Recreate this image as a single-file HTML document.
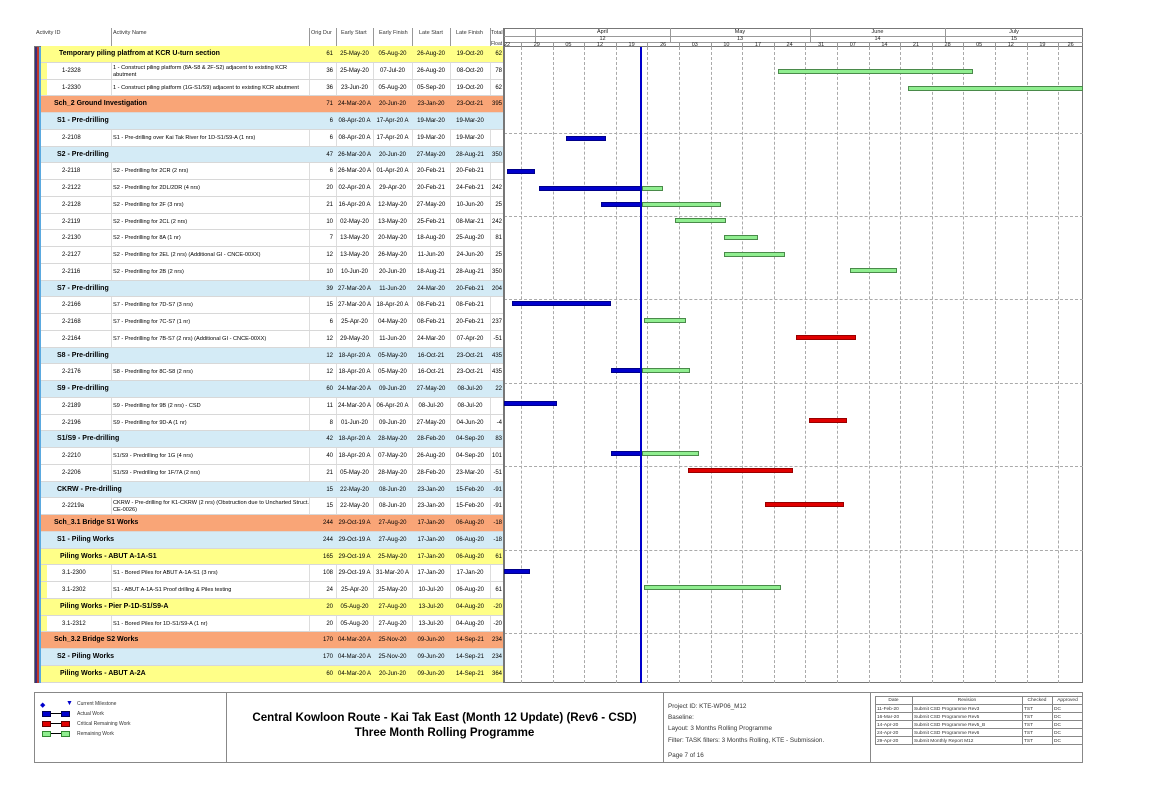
<!DOCTYPE html>
<html><head><meta charset="utf-8">
<style>
*{margin:0;padding:0;box-sizing:border-box}
body{width:1149px;height:812px;background:#fff;position:relative;overflow:hidden;font-family:"Liberation Sans",Arial,sans-serif;color:#000}
.a{position:absolute}
.r{position:absolute;left:41px;width:462px;height:16.75px;border-bottom:1px solid #d8d8d8;font-size:6px;line-height:16px;white-space:nowrap}
.r span{position:absolute;top:0}
.y{background:#ffff88}.o{background:#f9a577}.b{background:#d4ebf6}
.w{background:linear-gradient(#ddd,#ddd) 70px 0/1px 100% no-repeat,linear-gradient(#ddd,#ddd) 268px 0/1px 100% no-repeat,linear-gradient(#ddd,#ddd) 295px 0/1px 100% no-repeat,linear-gradient(#ddd,#ddd) 332px 0/1px 100% no-repeat,linear-gradient(#ddd,#ddd) 371px 0/1px 100% no-repeat,linear-gradient(#ddd,#ddd) 409px 0/1px 100% no-repeat,linear-gradient(#ddd,#ddd) 449px 0/1px 100% no-repeat,#fff}
.yi{background:linear-gradient(#ffff88,#ffff88) 0 0/6px 100% no-repeat,linear-gradient(#ddd,#ddd) 70px 0/1px 100% no-repeat,linear-gradient(#ddd,#ddd) 268px 0/1px 100% no-repeat,linear-gradient(#ddd,#ddd) 295px 0/1px 100% no-repeat,linear-gradient(#ddd,#ddd) 332px 0/1px 100% no-repeat,linear-gradient(#ddd,#ddd) 371px 0/1px 100% no-repeat,linear-gradient(#ddd,#ddd) 409px 0/1px 100% no-repeat,linear-gradient(#ddd,#ddd) 449px 0/1px 100% no-repeat,#fff}
.h{font-weight:bold;font-size:7px}
.h .du,.h .es,.h .ef,.h .ls,.h .lf,.h .tf{font-weight:normal;font-size:6px}
.id{left:21px}.nm{left:72px;font-size:5.6px}
.du{left:262px;width:30px;text-align:right}
.es{left:295px;width:37px;text-align:center}
.ef{left:332px;width:39px;text-align:center}
.ls{left:371px;width:38px;text-align:center}
.lf{left:409px;width:40px;text-align:center}
.tf{left:449px;width:13px;text-align:right;padding-right:1px}
.bar{position:absolute;height:5px}
.bl{background:#0000cc;border:1px solid #00008a}
.gr{background:#90ee90;border:1px solid #4a8a4a}
.rd{background:#e00000;border:1px solid #900}
.vg{position:absolute;top:47px;height:636px;border-left:1px dashed #aaa;width:0}
.hg{position:absolute;left:504px;width:579px;border-top:1px dashed #aaa;height:0}
.hd{position:absolute;font-size:5.5px;text-align:center;color:#222}
.t6{font-size:6.3px;color:#333}
</style></head><body>

<div class="a" style="left:34px;top:28px;width:1049px;height:655px;border:1px solid #777"></div>
<div class="a" style="left:34px;top:28px;width:470px;height:19px;border-bottom:1px solid #777;background:#fff"></div>
<div class="a t6" style="left:36px;top:30px;font-size:5.5px">Activity ID</div>
<div class="a t6" style="left:113px;top:30px;font-size:5.5px">Activity Name</div>
<div class="a t6" style="left:311px;top:30px;font-size:5.5px">Orig Dur</div>
<div class="a t6" style="left:341px;top:30px;font-size:5.5px">Early Start</div>
<div class="a t6" style="left:379px;top:30px;font-size:5.5px">Early Finish</div>
<div class="a t6" style="left:419px;top:30px;font-size:5.5px">Late Start</div>
<div class="a t6" style="left:456px;top:30px;font-size:5.5px">Late Finish</div>
<div class="a t6" style="left:491px;top:30px;font-size:5.5px">Total</div>
<div class="a t6" style="left:491px;top:41px;font-size:5px">Float</div>
<div class="a" style="left:111px;top:28px;height:19px;border-left:1px solid #999"></div>
<div class="a" style="left:309px;top:28px;height:19px;border-left:1px solid #999"></div>
<div class="a" style="left:336px;top:28px;height:19px;border-left:1px solid #999"></div>
<div class="a" style="left:373px;top:28px;height:19px;border-left:1px solid #999"></div>
<div class="a" style="left:412px;top:28px;height:19px;border-left:1px solid #999"></div>
<div class="a" style="left:450px;top:28px;height:19px;border-left:1px solid #999"></div>
<div class="a" style="left:490px;top:28px;height:19px;border-left:1px solid #999"></div>

<div class="a" style="left:503px;top:28px;width:580px;height:19px;border-left:2px solid #777;border-bottom:1px solid #777"></div>
<div class="a" style="left:504px;top:36px;width:579px;border-top:1px solid #999"></div>
<div class="a" style="left:504px;top:42px;width:579px;border-top:1px solid #999"></div>
<div class="a" style="left:535px;top:28px;height:14px;border-left:1px solid #999"></div>
<div class="a" style="left:670px;top:28px;height:14px;border-left:1px solid #999"></div>
<div class="a" style="left:810px;top:28px;height:14px;border-left:1px solid #999"></div>
<div class="a" style="left:945px;top:28px;height:14px;border-left:1px solid #999"></div>
<div class="hd" style="left:535px;width:135px;top:29px">April</div>
<div class="hd" style="left:535px;width:135px;top:36px">12</div>
<div class="hd" style="left:670px;width:140px;top:29px">May</div>
<div class="hd" style="left:670px;width:140px;top:36px">13</div>
<div class="hd" style="left:810px;width:135px;top:29px">June</div>
<div class="hd" style="left:810px;width:135px;top:36px">14</div>
<div class="hd" style="left:945px;width:138px;top:29px">July</div>
<div class="hd" style="left:945px;width:138px;top:36px">15</div>
<div class="hd" style="left:504px;top:41.5px;text-align:left">22</div>
<div class="hd" style="left:521px;width:31.6px;top:41.5px">29</div>
<div class="hd" style="left:552.6px;width:31.6px;top:41.5px">05</div>
<div class="hd" style="left:584.2px;width:31.6px;top:41.5px">12</div>
<div class="hd" style="left:615.8px;width:31.6px;top:41.5px">19</div>
<div class="hd" style="left:647.4px;width:31.6px;top:41.5px">26</div>
<div class="hd" style="left:679px;width:31.6px;top:41.5px">03</div>
<div class="hd" style="left:710.6px;width:31.6px;top:41.5px">10</div>
<div class="hd" style="left:742.2px;width:31.6px;top:41.5px">17</div>
<div class="hd" style="left:773.8px;width:31.6px;top:41.5px">24</div>
<div class="hd" style="left:805.4px;width:31.6px;top:41.5px">31</div>
<div class="hd" style="left:837px;width:31.6px;top:41.5px">07</div>
<div class="hd" style="left:868.6px;width:31.6px;top:41.5px">14</div>
<div class="hd" style="left:900.2px;width:31.6px;top:41.5px">21</div>
<div class="hd" style="left:931.8px;width:31.6px;top:41.5px">28</div>
<div class="hd" style="left:963.4px;width:31.6px;top:41.5px">05</div>
<div class="hd" style="left:995px;width:31.6px;top:41.5px">12</div>
<div class="hd" style="left:1026.6px;width:31.6px;top:41.5px">19</div>
<div class="hd" style="left:1058.2px;width:25px;top:41.5px">26</div>
<div class="a" style="left:521px;top:42px;height:5px;border-left:1px solid #999"></div>
<div class="a" style="left:552.6px;top:42px;height:5px;border-left:1px solid #999"></div>
<div class="a" style="left:584.2px;top:42px;height:5px;border-left:1px solid #999"></div>
<div class="a" style="left:615.8px;top:42px;height:5px;border-left:1px solid #999"></div>
<div class="a" style="left:647.4px;top:42px;height:5px;border-left:1px solid #999"></div>
<div class="a" style="left:679px;top:42px;height:5px;border-left:1px solid #999"></div>
<div class="a" style="left:710.6px;top:42px;height:5px;border-left:1px solid #999"></div>
<div class="a" style="left:742.2px;top:42px;height:5px;border-left:1px solid #999"></div>
<div class="a" style="left:773.8px;top:42px;height:5px;border-left:1px solid #999"></div>
<div class="a" style="left:805.4px;top:42px;height:5px;border-left:1px solid #999"></div>
<div class="a" style="left:837px;top:42px;height:5px;border-left:1px solid #999"></div>
<div class="a" style="left:868.6px;top:42px;height:5px;border-left:1px solid #999"></div>
<div class="a" style="left:900.2px;top:42px;height:5px;border-left:1px solid #999"></div>
<div class="a" style="left:931.8px;top:42px;height:5px;border-left:1px solid #999"></div>
<div class="a" style="left:963.4px;top:42px;height:5px;border-left:1px solid #999"></div>
<div class="a" style="left:995px;top:42px;height:5px;border-left:1px solid #999"></div>
<div class="a" style="left:1026.6px;top:42px;height:5px;border-left:1px solid #999"></div>
<div class="a" style="left:1058.2px;top:42px;height:5px;border-left:1px solid #999"></div>

<div class="vg" style="left:521px"></div><div class="vg" style="left:552.6px"></div><div class="vg" style="left:584.2px"></div><div class="vg" style="left:615.8px"></div><div class="vg" style="left:647.4px"></div><div class="vg" style="left:679px"></div><div class="vg" style="left:710.6px"></div><div class="vg" style="left:742.2px"></div><div class="vg" style="left:773.8px"></div><div class="vg" style="left:805.4px"></div><div class="vg" style="left:837px"></div><div class="vg" style="left:868.6px"></div><div class="vg" style="left:900.2px"></div><div class="vg" style="left:931.8px"></div><div class="vg" style="left:963.4px"></div><div class="vg" style="left:995px"></div><div class="vg" style="left:1026.6px"></div><div class="vg" style="left:1058.2px"></div>
<div class="hg" style="top:133px"></div><div class="hg" style="top:216px"></div><div class="hg" style="top:299px"></div><div class="hg" style="top:383px"></div><div class="hg" style="top:466px"></div><div class="hg" style="top:550px"></div><div class="hg" style="top:633px"></div>
<div class="a" style="left:503px;top:47px;height:636px;border-left:2px solid #777"></div>

<div class="a" style="left:35px;top:47px;width:2px;height:636px;background:#3b2f7a"></div>
<div class="a" style="left:37px;top:47px;width:2px;height:636px;background:#c0392b"></div>
<div class="a" style="left:39px;top:47px;width:2px;height:636px;background:#5aa9e0"></div>

<div class="r y h" style="top:46px"><span style="left:18px">Temporary piling platfrom at KCR U-turn section</span><span class="du">61</span><span class="es">25-May-20</span><span class="ef">05-Aug-20</span><span class="ls">26-Aug-20</span><span class="lf">19-Oct-20</span><span class="tf">62</span></div>
<div class="r yi" style="top:62.75px"><span class="id">1-2328</span><span class="nm" style="line-height:7px;top:2px">1 - Construct piling platform (8A-S8 &amp; 2F-S2) adjacent to existing KCR<br>abutment</span><span class="du">36</span><span class="es">25-May-20</span><span class="ef">07-Jul-20</span><span class="ls">26-Aug-20</span><span class="lf">08-Oct-20</span><span class="tf">78</span></div>
<div class="r yi" style="top:79.5px"><span class="id">1-2330</span><span class="nm">1 - Construct piling platform (1G-S1/S9) adjacent to existing KCR abutment</span><span class="du">36</span><span class="es">23-Jun-20</span><span class="ef">05-Aug-20</span><span class="ls">05-Sep-20</span><span class="lf">19-Oct-20</span><span class="tf">62</span></div>
<div class="r o h" style="top:96.25px"><span style="left:13px">Sch_2 Ground Investigation</span><span class="du">71</span><span class="es">24-Mar-20 A</span><span class="ef">20-Jun-20</span><span class="ls">23-Jan-20</span><span class="lf">23-Oct-21</span><span class="tf">395</span></div>
<div class="r b h" style="top:113px"><span style="left:16px">S1 - Pre-drilling</span><span class="du">6</span><span class="es">08-Apr-20 A</span><span class="ef">17-Apr-20 A</span><span class="ls">19-Mar-20</span><span class="lf">19-Mar-20</span></div>
<div class="r w" style="top:129.75px"><span class="id">2-2108</span><span class="nm">S1 - Pre-drilling over Kai Tak River for 1D-S1/S9-A (1 nrs)</span><span class="du">6</span><span class="es">08-Apr-20 A</span><span class="ef">17-Apr-20 A</span><span class="ls">19-Mar-20</span><span class="lf">19-Mar-20</span></div>
<div class="r b h" style="top:146.5px"><span style="left:16px">S2 - Pre-drilling</span><span class="du">47</span><span class="es">26-Mar-20 A</span><span class="ef">20-Jun-20</span><span class="ls">27-May-20</span><span class="lf">28-Aug-21</span><span class="tf">350</span></div>
<div class="r w" style="top:163.25px"><span class="id">2-2118</span><span class="nm">S2 - Predrilling for 2CR (2 nrs)</span><span class="du">6</span><span class="es">26-Mar-20 A</span><span class="ef">01-Apr-20 A</span><span class="ls">20-Feb-21</span><span class="lf">20-Feb-21</span></div>
<div class="r w" style="top:180px"><span class="id">2-2122</span><span class="nm">S2 - Predrilling for 2DL/2DR (4 nrs)</span><span class="du">20</span><span class="es">02-Apr-20 A</span><span class="ef">29-Apr-20</span><span class="ls">20-Feb-21</span><span class="lf">24-Feb-21</span><span class="tf">242</span></div>
<div class="r w" style="top:196.75px"><span class="id">2-2128</span><span class="nm">S2 - Predrilling for 2F (3 nrs)</span><span class="du">21</span><span class="es">16-Apr-20 A</span><span class="ef">12-May-20</span><span class="ls">27-May-20</span><span class="lf">10-Jun-20</span><span class="tf">25</span></div>
<div class="r w" style="top:213.5px"><span class="id">2-2119</span><span class="nm">S2 - Predrilling for 2CL (2 nrs)</span><span class="du">10</span><span class="es">02-May-20</span><span class="ef">13-May-20</span><span class="ls">25-Feb-21</span><span class="lf">08-Mar-21</span><span class="tf">242</span></div>
<div class="r w" style="top:230.25px"><span class="id">2-2130</span><span class="nm">S2 - Predrilling for 8A (1 nr)</span><span class="du">7</span><span class="es">13-May-20</span><span class="ef">20-May-20</span><span class="ls">18-Aug-20</span><span class="lf">25-Aug-20</span><span class="tf">81</span></div>
<div class="r w" style="top:247px"><span class="id">2-2127</span><span class="nm">S2 - Predrilling for 2EL (2 nrs) (Additional GI - CNCE-00XX)</span><span class="du">12</span><span class="es">13-May-20</span><span class="ef">26-May-20</span><span class="ls">11-Jun-20</span><span class="lf">24-Jun-20</span><span class="tf">25</span></div>
<div class="r w" style="top:263.75px"><span class="id">2-2116</span><span class="nm">S2 - Predrilling for 2B (2 nrs)</span><span class="du">10</span><span class="es">10-Jun-20</span><span class="ef">20-Jun-20</span><span class="ls">18-Aug-21</span><span class="lf">28-Aug-21</span><span class="tf">350</span></div>
<div class="r b h" style="top:280.5px"><span style="left:16px">S7 - Pre-drilling</span><span class="du">39</span><span class="es">27-Mar-20 A</span><span class="ef">11-Jun-20</span><span class="ls">24-Mar-20</span><span class="lf">20-Feb-21</span><span class="tf">204</span></div>
<div class="r w" style="top:297.25px"><span class="id">2-2166</span><span class="nm">S7 - Predrilling for 7D-S7 (3 nrs)</span><span class="du">15</span><span class="es">27-Mar-20 A</span><span class="ef">18-Apr-20 A</span><span class="ls">08-Feb-21</span><span class="lf">08-Feb-21</span></div>
<div class="r w" style="top:314px"><span class="id">2-2168</span><span class="nm">S7 - Predrilling for 7C-S7 (1 nr)</span><span class="du">6</span><span class="es">25-Apr-20</span><span class="ef">04-May-20</span><span class="ls">08-Feb-21</span><span class="lf">20-Feb-21</span><span class="tf">237</span></div>
<div class="r w" style="top:330.75px"><span class="id">2-2164</span><span class="nm">S7 - Predrilling for 7B-S7 (2 nrs) (Additional GI - CNCE-00XX)</span><span class="du">12</span><span class="es">29-May-20</span><span class="ef">11-Jun-20</span><span class="ls">24-Mar-20</span><span class="lf">07-Apr-20</span><span class="tf">-51</span></div>
<div class="r b h" style="top:347.5px"><span style="left:16px">S8 - Pre-drilling</span><span class="du">12</span><span class="es">18-Apr-20 A</span><span class="ef">05-May-20</span><span class="ls">16-Oct-21</span><span class="lf">23-Oct-21</span><span class="tf">435</span></div>
<div class="r w" style="top:364.25px"><span class="id">2-2176</span><span class="nm">S8 - Predrilling for 8C-S8 (2 nrs)</span><span class="du">12</span><span class="es">18-Apr-20 A</span><span class="ef">05-May-20</span><span class="ls">16-Oct-21</span><span class="lf">23-Oct-21</span><span class="tf">435</span></div>
<div class="r b h" style="top:381px"><span style="left:16px">S9 - Pre-drilling</span><span class="du">60</span><span class="es">24-Mar-20 A</span><span class="ef">09-Jun-20</span><span class="ls">27-May-20</span><span class="lf">08-Jul-20</span><span class="tf">22</span></div>
<div class="r w" style="top:397.75px"><span class="id">2-2189</span><span class="nm">S9 - Predrilling for 9B (2 nrs) - CSD</span><span class="du">11</span><span class="es">24-Mar-20 A</span><span class="ef">06-Apr-20 A</span><span class="ls">08-Jul-20</span><span class="lf">08-Jul-20</span></div>
<div class="r w" style="top:414.5px"><span class="id">2-2196</span><span class="nm">S9 - Predrilling for 9D-A (1 nr)</span><span class="du">8</span><span class="es">01-Jun-20</span><span class="ef">09-Jun-20</span><span class="ls">27-May-20</span><span class="lf">04-Jun-20</span><span class="tf">-4</span></div>
<div class="r b h" style="top:431.25px"><span style="left:16px">S1/S9 - Pre-drilling</span><span class="du">42</span><span class="es">18-Apr-20 A</span><span class="ef">28-May-20</span><span class="ls">28-Feb-20</span><span class="lf">04-Sep-20</span><span class="tf">83</span></div>
<div class="r w" style="top:448px"><span class="id">2-2210</span><span class="nm">S1/S9 - Predrilling for 1G (4 nrs)</span><span class="du">40</span><span class="es">18-Apr-20 A</span><span class="ef">07-May-20</span><span class="ls">26-Aug-20</span><span class="lf">04-Sep-20</span><span class="tf">101</span></div>
<div class="r w" style="top:464.75px"><span class="id">2-2206</span><span class="nm">S1/S9 - Predrilling for 1F/7A (2 nrs)</span><span class="du">21</span><span class="es">05-May-20</span><span class="ef">28-May-20</span><span class="ls">28-Feb-20</span><span class="lf">23-Mar-20</span><span class="tf">-51</span></div>
<div class="r b h" style="top:481.5px"><span style="left:16px">CKRW - Pre-drilling</span><span class="du">15</span><span class="es">22-May-20</span><span class="ef">08-Jun-20</span><span class="ls">23-Jan-20</span><span class="lf">15-Feb-20</span><span class="tf">-91</span></div>
<div class="r w" style="top:498.25px"><span class="id">2-2219a</span><span class="nm" style="line-height:7px;top:2px">CKRW - Pre-drilling for K1-CKRW (2 nrs) (Obstruction due to Uncharted Struct.<br>CE-0026)</span><span class="du">15</span><span class="es">22-May-20</span><span class="ef">08-Jun-20</span><span class="ls">23-Jan-20</span><span class="lf">15-Feb-20</span><span class="tf">-91</span></div>
<div class="r o h" style="top:515px"><span style="left:13px">Sch_3.1 Bridge S1 Works</span><span class="du">244</span><span class="es">29-Oct-19 A</span><span class="ef">27-Aug-20</span><span class="ls">17-Jan-20</span><span class="lf">06-Aug-20</span><span class="tf">-18</span></div>
<div class="r b h" style="top:531.75px"><span style="left:16px">S1 - Piling Works</span><span class="du">244</span><span class="es">29-Oct-19 A</span><span class="ef">27-Aug-20</span><span class="ls">17-Jan-20</span><span class="lf">06-Aug-20</span><span class="tf">-18</span></div>
<div class="r y h" style="top:548.5px"><span style="left:19px">Piling Works - ABUT A-1A-S1</span><span class="du">165</span><span class="es">29-Oct-19 A</span><span class="ef">25-May-20</span><span class="ls">17-Jan-20</span><span class="lf">06-Aug-20</span><span class="tf">61</span></div>
<div class="r yi" style="top:565.25px"><span class="id">3.1-2300</span><span class="nm">S1 - Bored Piles for ABUT A-1A-S1 (3 nrs)</span><span class="du">108</span><span class="es">29-Oct-19 A</span><span class="ef">31-Mar-20 A</span><span class="ls">17-Jan-20</span><span class="lf">17-Jan-20</span></div>
<div class="r yi" style="top:582px"><span class="id">3.1-2302</span><span class="nm">S1 - ABUT A-1A-S1 Proof drilling &amp; Piles testing</span><span class="du">24</span><span class="es">25-Apr-20</span><span class="ef">25-May-20</span><span class="ls">10-Jul-20</span><span class="lf">06-Aug-20</span><span class="tf">61</span></div>
<div class="r y h" style="top:598.75px"><span style="left:19px">Piling Works - Pier P-1D-S1/S9-A</span><span class="du">20</span><span class="es">05-Aug-20</span><span class="ef">27-Aug-20</span><span class="ls">13-Jul-20</span><span class="lf">04-Aug-20</span><span class="tf">-20</span></div>
<div class="r yi" style="top:615.5px"><span class="id">3.1-2312</span><span class="nm">S1 - Bored Piles for 1D-S1/S9-A (1 nr)</span><span class="du">20</span><span class="es">05-Aug-20</span><span class="ef">27-Aug-20</span><span class="ls">13-Jul-20</span><span class="lf">04-Aug-20</span><span class="tf">-20</span></div>
<div class="r o h" style="top:632.25px"><span style="left:13px">Sch_3.2 Bridge S2 Works</span><span class="du">170</span><span class="es">04-Mar-20 A</span><span class="ef">25-Nov-20</span><span class="ls">09-Jun-20</span><span class="lf">14-Sep-21</span><span class="tf">234</span></div>
<div class="r b h" style="top:649px"><span style="left:16px">S2 - Piling Works</span><span class="du">170</span><span class="es">04-Mar-20 A</span><span class="ef">25-Nov-20</span><span class="ls">09-Jun-20</span><span class="lf">14-Sep-21</span><span class="tf">234</span></div>
<div class="r y h" style="top:665.75px;height:17px"><span style="left:19px">Piling Works - ABUT A-2A</span><span class="du">60</span><span class="es">04-Mar-20 A</span><span class="ef">20-Jun-20</span><span class="ls">09-Jun-20</span><span class="lf">14-Sep-21</span><span class="tf">364</span></div>

<div class="bar gr" style="left:778px;width:195px;top:68.5px"></div>
<div class="bar gr" style="left:908px;width:175px;top:85.5px"></div>
<div class="bar bl" style="left:566px;width:40px;top:135.5px"></div>
<div class="bar bl" style="left:507px;width:28px;top:168.5px"></div>
<div class="bar bl" style="left:539px;width:103px;top:185.5px"></div>
<div class="bar gr" style="left:642px;width:21px;top:185.5px"></div>
<div class="bar bl" style="left:601px;width:41px;top:201.5px"></div>
<div class="bar gr" style="left:642px;width:79px;top:201.5px"></div>
<div class="bar gr" style="left:675px;width:51px;top:218px"></div>
<div class="bar gr" style="left:724px;width:34px;top:234.5px"></div>
<div class="bar gr" style="left:724px;width:61px;top:251.5px"></div>
<div class="bar gr" style="left:850px;width:47px;top:268px"></div>
<div class="bar bl" style="left:512px;width:99px;top:301px"></div>
<div class="bar gr" style="left:644px;width:42px;top:317.5px"></div>
<div class="bar rd" style="left:796px;width:60px;top:334.5px"></div>
<div class="bar bl" style="left:611px;width:31px;top:367.5px"></div>
<div class="bar gr" style="left:642px;width:48px;top:367.5px"></div>
<div class="bar bl" style="left:504px;width:53px;top:401px"></div>
<div class="bar rd" style="left:809px;width:38px;top:417.5px"></div>
<div class="bar bl" style="left:611px;width:31px;top:451px"></div>
<div class="bar gr" style="left:642px;width:57px;top:451px"></div>
<div class="bar rd" style="left:688px;width:105px;top:467.5px"></div>
<div class="bar rd" style="left:765px;width:79px;top:501.5px"></div>
<div class="bar bl" style="left:504px;width:26px;top:568.5px"></div>
<div class="bar gr" style="left:644px;width:137px;top:585px"></div>

<div class="a" style="left:640px;top:47px;width:2px;height:636px;background:#0000cc"></div>

<div class="a" style="left:34px;top:692px;width:1049px;height:71px;border:1px solid #888"></div>
<div class="a" style="left:226px;top:692px;height:71px;border-left:1px solid #888"></div>
<div class="a" style="left:663px;top:692px;height:71px;border-left:1px solid #888"></div>
<div class="a" style="left:870px;top:692px;height:71px;border-left:1px solid #888"></div>

<div class="a" style="left:40px;top:701px;color:#0000cc;font-size:7px">&#9670;</div>
<div class="a" style="left:66px;top:700px;color:#0000cc;font-size:7px">&#9660;</div>
<div class="a t6" style="left:77px;top:701px;font-size:5px">Current Milestone</div>
<div class="a" style="left:42px;top:711px;width:9px;height:6px;background:#0000cc;border:1px solid #005"></div><div class="a" style="left:51px;top:713px;width:10px;height:1px;background:#000"></div><div class="a" style="left:61px;top:711px;width:9px;height:6px;background:#0000cc;border:1px solid #005"></div>
<div class="a t6" style="left:77px;top:711px;font-size:5px">Actual Work</div>
<div class="a" style="left:42px;top:721px;width:9px;height:6px;background:#e00000;border:1px solid #600"></div><div class="a" style="left:51px;top:723px;width:10px;height:1px;background:#000"></div><div class="a" style="left:61px;top:721px;width:9px;height:6px;background:#e00000;border:1px solid #600"></div>
<div class="a t6" style="left:77px;top:721px;font-size:5px">Critical Remaining Work</div>
<div class="a" style="left:42px;top:731px;width:9px;height:6px;background:#90ee90;border:1px solid #383"></div><div class="a" style="left:51px;top:733px;width:10px;height:1px;background:#000"></div><div class="a" style="left:61px;top:731px;width:9px;height:6px;background:#90ee90;border:1px solid #383"></div>
<div class="a t6" style="left:77px;top:731px;font-size:5px">Remaining Work</div>

<div class="a" style="left:226px;width:437px;top:710px;text-align:center;font-weight:bold;font-size:11.6px;line-height:15px">Central Kowloon Route - Kai Tak East (Month 12 Update) (Rev6 - CSD)<br>Three Month Rolling Programme</div>

<div class="a t6" style="left:668px;top:701px;font-size:6.3px;line-height:11.2px">Project ID: KTE-WP06_M12<br>Baseline:<br>Layout: 3 Months Rolling Programme<br>Filter: TASK filters: 3 Months Rolling, KTE - Submission.</div>
<div class="a t6" style="left:668px;top:752px;font-size:6.3px">Page 7 of 16</div>

<div class="a" style="left:875px;top:696px;width:208px;height:49px;border-top:1px solid #888;font-size:4.8px;color:#333">
<div class="a" style="left:0;top:0;width:208px;border-bottom:1px solid #888;height:8px"></div>
<div class="a" style="left:0;top:8px;width:208px;border-bottom:1px solid #888;height:8px"></div>
<div class="a" style="left:0;top:16px;width:208px;border-bottom:1px solid #888;height:8px"></div>
<div class="a" style="left:0;top:24px;width:208px;border-bottom:1px solid #888;height:8px"></div>
<div class="a" style="left:0;top:32px;width:208px;border-bottom:1px solid #888;height:8px"></div>
<div class="a" style="left:0;top:40px;width:208px;border-bottom:1px solid #888;height:8px"></div>
<div class="a" style="left:0;top:0;height:48px;border-left:1px solid #888"></div>
<div class="a" style="left:37px;top:0;height:48px;border-left:1px solid #888"></div>
<div class="a" style="left:147px;top:0;height:48px;border-left:1px solid #888"></div>
<div class="a" style="left:177px;top:0;height:48px;border-left:1px solid #888"></div>
<div class="a" style="left:0;width:37px;top:1px;text-align:center">Date</div>
<div class="a" style="left:37px;width:110px;top:1px;text-align:center">Revision</div>
<div class="a" style="left:147px;width:30px;top:1px;text-align:center">Checked</div>
<div class="a" style="left:177px;width:31px;top:1px;text-align:center">Approved</div>
<div class="a" style="left:2px;top:9px;line-height:8px">11-Feb-20<br>16-Mar-20<br>14-Apr-20<br>24-Apr-20<br>29-Apr-20</div>
<div class="a" style="left:39px;top:9px;line-height:8px">Submit CSD Programme Rev3<br>Submit CSD Programme Rev5<br>Submit CSD Programme Rev5_B<br>Submit CSD Programme Rev6<br>Submit Monthly Report M12</div>
<div class="a" style="left:149px;top:9px;line-height:8px">TST<br>TST<br>TST<br>TST<br>TST</div>
<div class="a" style="left:179px;top:9px;line-height:8px">DC<br>DC<br>DC<br>DC<br>DC</div>
</div>
</body></html>
